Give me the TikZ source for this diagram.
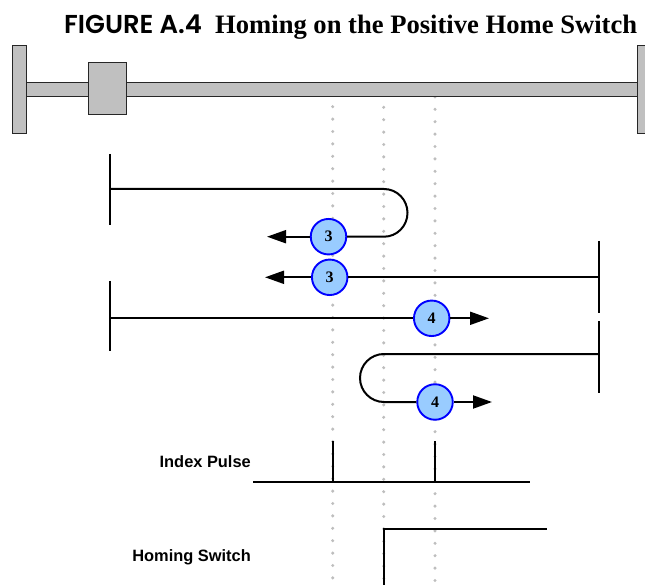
\documentclass[tikz,border=0pt]{standalone}
\usepackage{fontspec}
\setmainfont{Liberation Serif}
\setsansfont{Liberation Sans}
\newfontfamily\figfont{Poppins SemiBold}
\usetikzlibrary{arrows.meta}
\definecolor{railgray}{HTML}{C0C0C0}
\definecolor{dotgray}{HTML}{BEBEBE}
\definecolor{badgefill}{HTML}{99CCFF}
\definecolor{badgeline}{HTML}{0000FF}
\tikzset{
  x=1pt,y=-1pt,
  railpart/.style={draw=black!85,line width=1pt,fill=railgray},
  guide/.style={dotgray,line width=3.4pt,line cap=round,dash pattern=on 0pt off 12.4pt},
  trace/.style={black,line width=2pt},
  travel/.style={trace,-{Triangle[length=19pt,width=13pt]}},
  badge/.style={circle,draw=badgeline,line width=1.9pt,fill=badgefill,minimum size=35.5pt,inner sep=0pt,font=\bfseries\fontsize{16}{16}\selectfont},
  siglabel/.style={anchor=east,inner sep=0pt,font=\sffamily\bfseries\fontsize{16.4}{18}\selectfont},
}
\begin{document}
\begin{tikzpicture}
\useasboundingbox (0,0) rectangle (645,585);
% title
\node[anchor=west,inner sep=0pt] (figlabel) at (64,24.5) {\figfont\fontsize{25.9}{28}\selectfont FIGURE A.4};
\node[anchor=west,inner sep=0pt] (figtitle) at (215,27) {\bfseries\fontsize{26.6}{28}\selectfont Homing on the Positive Home Switch};
% dotted guides
\coordinate (g1a) at (332.7,106.7); \coordinate (g1b) at (332.7,585);
\coordinate (g2a) at (383.7,107.3); \coordinate (g2b) at (383.7,585);
\coordinate (g3a) at (435,96.9);    \coordinate (g3b) at (435,585);
\draw[guide] (g1a) -- (g1b);
\draw[guide] (g2a) -- (g2b);
\draw[guide] (g3a) -- (g3b);
% rail
\draw[railpart] (26,82.5) rectangle (637,97);
\draw[railpart] (12,46) rectangle (26.5,134);
\draw[railpart] (637,46) rectangle (646,134);
\draw[railpart] (88,63) rectangle (126.5,115);
% path 1
\coordinate (p1a) at (110,154); \coordinate (p1b) at (110,225); \coordinate (p1c) at (110,189);
\coordinate (p1t) at (267,236.7);
\node[badge] (b1) at (328.5,236.7) {3};
\draw[trace] (p1a) -- (p1b);
\draw[trace] (p1c) -- (384,189) arc[start angle=-90,end angle=90,x radius=23.5,y radius=23.85] -- (b1.east);
\draw[travel] (b1.west) -- (p1t);
% path 2
\coordinate (p2a) at (599,241); \coordinate (p2b) at (599,313); \coordinate (p2c) at (599,277.3);
\coordinate (p2t) at (265,277.3);
\node[badge] (b2) at (329.7,277.3) {3};
\draw[trace] (p2a) -- (p2b);
\draw[trace] (p2c) -- (b2.east);
\draw[travel] (b2.west) -- (p2t);
% path 3
\coordinate (p3a) at (110,281); \coordinate (p3b) at (110,351); \coordinate (p3c) at (110,318.3);
\coordinate (p3t) at (489,318.3);
\node[badge] (b3) at (431.7,318.3) {4};
\draw[trace] (p3a) -- (p3b);
\draw[trace] (p3c) -- (b3.west);
\draw[travel] (b3.east) -- (p3t);
% path 4
\coordinate (p4a) at (599,321); \coordinate (p4b) at (599,393); \coordinate (p4c) at (599,354);
\coordinate (p4t) at (492,402);
\node[badge] (b4) at (435,402) {4};
\draw[trace] (p4a) -- (p4b);
\draw[trace] (p4c) -- (384,354) arc[start angle=-90,end angle=-270,x radius=24,y radius=24] -- (b4.west);
\draw[travel] (b4.east) -- (p4t);
% index pulse
\node[siglabel] (idx) at (251,462) {Index Pulse};
\coordinate (i0) at (253,481.7); \coordinate (i1) at (530,481.7);
\coordinate (i2) at (332.7,441); \coordinate (i3) at (332.7,481.7);
\coordinate (i4) at (435,441);   \coordinate (i5) at (435,481.7);
\draw[trace] (i0) -- (i1);
\draw[trace] (i2) -- (i3);
\draw[trace] (i4) -- (i5);
% homing switch
\node[siglabel] (hom) at (251,557.5) {Homing Switch};
\coordinate (h0) at (383.7,585); \coordinate (h1) at (383.7,529); \coordinate (h2) at (547,529);
\draw[trace] (h0) -- (h1) -- (h2);
\end{tikzpicture}
\end{document}
